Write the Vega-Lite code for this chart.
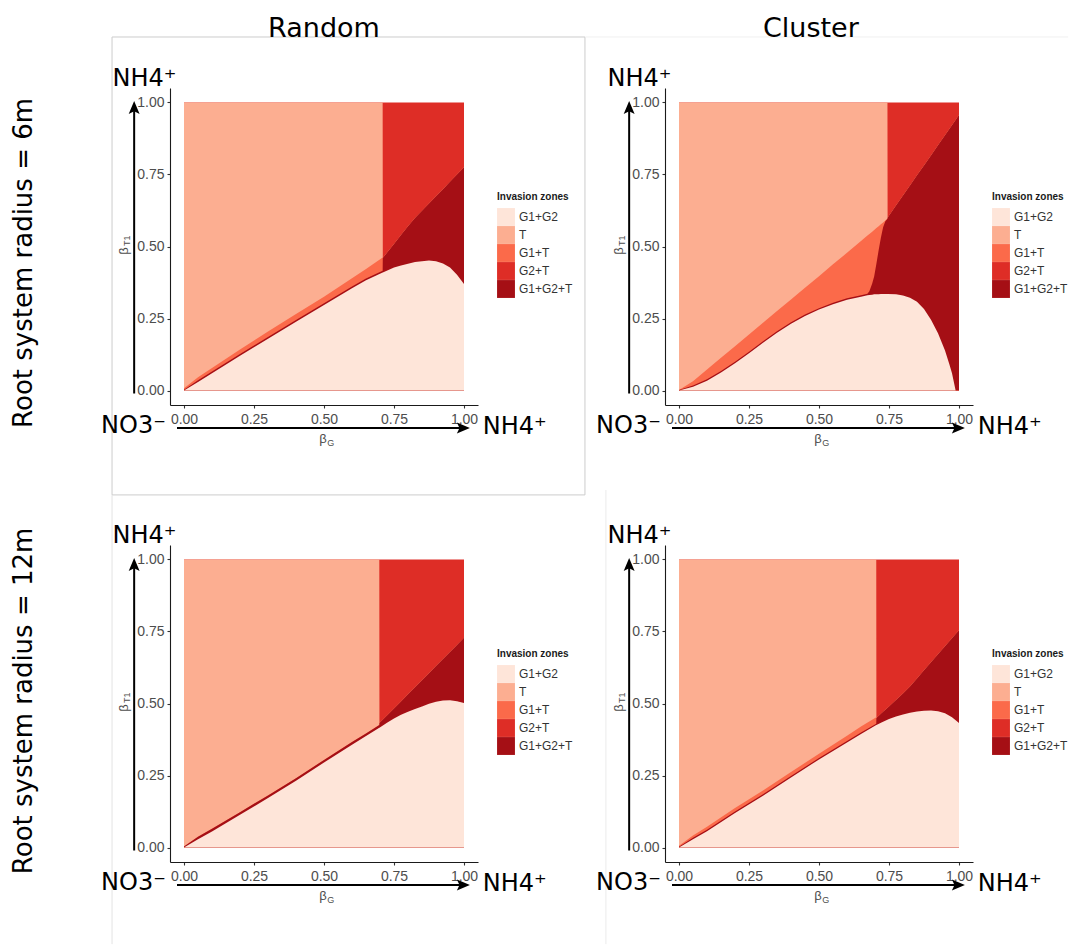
{
"$schema": "https://vega.github.io/schema/vega-lite/v6.json",
"background": "white",
"padding": {"left": 11, "top": 14, "right": 5, "bottom": 5},
"config": {
  "view": {"stroke": null},
  "axis": {"grid": false, "domainColor": "#1a1a1a", "domainWidth": 1.1, "tickColor": "#333333", "tickSize": 3, "tickWidth": 1.1, "labelColor": "#4d4d4d", "labelFontSize": 14, "labelFont": "Liberation Sans"}
},
"data": {"values": [
{"p":"A","x":0,"a":0,"b":0.003,"c":0.008,"d":1},
{"p":"A","x":0.05,"a":0.03,"b":0.036,"c":0.046,"d":1},
{"p":"A","x":0.1,"a":0.06,"b":0.066,"c":0.078,"d":1},
{"p":"A","x":0.2,"a":0.121,"b":0.127,"c":0.143,"d":1},
{"p":"A","x":0.3,"a":0.18,"b":0.186,"c":0.205,"d":1},
{"p":"A","x":0.4,"a":0.239,"b":0.245,"c":0.266,"d":1},
{"p":"A","x":0.5,"a":0.297,"b":0.303,"c":0.326,"d":1},
{"p":"A","x":0.6,"a":0.355,"b":0.361,"c":0.39,"d":1},
{"p":"A","x":0.65,"a":0.383,"b":0.389,"c":0.422,"d":1},
{"p":"A","x":0.7095,"a":0.41,"b":0.416,"c":0.462,"d":1},
{"p":"A","x":0.71,"a":0.4102,"b":0.46,"c":0.46,"d":0.46},
{"p":"A","x":0.75,"a":0.427,"b":0.509,"c":0.509,"d":0.509},
{"p":"A","x":0.775,"a":0.434,"b":0.54,"c":0.54,"d":0.54},
{"p":"A","x":0.8,"a":0.44,"b":0.57,"c":0.57,"d":0.57},
{"p":"A","x":0.825,"a":0.446,"b":0.599,"c":0.599,"d":0.599},
{"p":"A","x":0.85,"a":0.449,"b":0.624,"c":0.624,"d":0.624},
{"p":"A","x":0.875,"a":0.451,"b":0.649,"c":0.649,"d":0.649},
{"p":"A","x":0.9,"a":0.449,"b":0.674,"c":0.674,"d":0.674},
{"p":"A","x":0.925,"a":0.441,"b":0.699,"c":0.699,"d":0.699},
{"p":"A","x":0.95,"a":0.427,"b":0.725,"c":0.725,"d":0.725},
{"p":"A","x":0.975,"a":0.402,"b":0.75,"c":0.75,"d":0.75},
{"p":"A","x":1,"a":0.37,"b":0.775,"c":0.775,"d":0.775},
{"p":"B","x":0,"a":0,"b":0.002,"c":0.002,"d":1},
{"p":"B","x":0.05,"a":0.013,"b":0.018,"c":0.032,"d":1},
{"p":"B","x":0.1,"a":0.034,"b":0.039,"c":0.073,"d":1},
{"p":"B","x":0.15,"a":0.063,"b":0.068,"c":0.114,"d":1},
{"p":"B","x":0.2,"a":0.095,"b":0.1,"c":0.154,"d":1},
{"p":"B","x":0.25,"a":0.13,"b":0.135,"c":0.195,"d":1},
{"p":"B","x":0.3,"a":0.166,"b":0.171,"c":0.235,"d":1},
{"p":"B","x":0.35,"a":0.201,"b":0.206,"c":0.276,"d":1},
{"p":"B","x":0.4,"a":0.232,"b":0.237,"c":0.316,"d":1},
{"p":"B","x":0.45,"a":0.259,"b":0.264,"c":0.357,"d":1},
{"p":"B","x":0.5,"a":0.281,"b":0.286,"c":0.397,"d":1},
{"p":"B","x":0.55,"a":0.3,"b":0.305,"c":0.438,"d":1},
{"p":"B","x":0.6,"a":0.315,"b":0.32,"c":0.478,"d":1},
{"p":"B","x":0.65,"a":0.326,"b":0.331,"c":0.519,"d":1},
{"p":"B","x":0.673,"a":0.331,"b":0.336,"c":0.538,"d":1},
{"p":"B","x":0.68,"a":0.332,"b":0.345,"c":0.543,"d":1},
{"p":"B","x":0.69,"a":0.333,"b":0.372,"c":0.551,"d":1},
{"p":"B","x":0.697,"a":0.334,"b":0.396,"c":0.557,"d":1},
{"p":"B","x":0.705,"a":0.334,"b":0.44,"c":0.564,"d":1},
{"p":"B","x":0.713,"a":0.334,"b":0.487,"c":0.57,"d":1},
{"p":"B","x":0.721,"a":0.335,"b":0.53,"c":0.577,"d":1},
{"p":"B","x":0.729,"a":0.335,"b":0.567,"c":0.583,"d":1},
{"p":"B","x":0.737,"a":0.335,"b":0.588,"c":0.59,"d":1},
{"p":"B","x":0.7445,"a":0.335,"b":0.596,"c":0.596,"d":1},
{"p":"B","x":0.745,"a":0.335,"b":0.6,"c":0.6,"d":0.6},
{"p":"B","x":0.775,"a":0.334,"b":0.642,"c":0.642,"d":0.642},
{"p":"B","x":0.8,"a":0.33,"b":0.677,"c":0.677,"d":0.677},
{"p":"B","x":0.825,"a":0.322,"b":0.712,"c":0.712,"d":0.712},
{"p":"B","x":0.85,"a":0.308,"b":0.747,"c":0.747,"d":0.747},
{"p":"B","x":0.875,"a":0.283,"b":0.781,"c":0.781,"d":0.781},
{"p":"B","x":0.9,"a":0.246,"b":0.816,"c":0.816,"d":0.816},
{"p":"B","x":0.925,"a":0.199,"b":0.851,"c":0.851,"d":0.851},
{"p":"B","x":0.95,"a":0.139,"b":0.886,"c":0.886,"d":0.886},
{"p":"B","x":0.965,"a":0.093,"b":0.907,"c":0.907,"d":0.907},
{"p":"B","x":0.975,"a":0.06,"b":0.921,"c":0.921,"d":0.921},
{"p":"B","x":0.988,"a":0,"b":0.939,"c":0.939,"d":0.939},
{"p":"B","x":1,"a":0,"b":0.956,"c":0.956,"d":0.956},
{"p":"C","x":0,"a":0,"b":0.004,"c":0.004,"d":1},
{"p":"C","x":0.05,"a":0.029,"b":0.038,"c":0.038,"d":1},
{"p":"C","x":0.1,"a":0.056,"b":0.065,"c":0.065,"d":1},
{"p":"C","x":0.2,"a":0.114,"b":0.123,"c":0.123,"d":1},
{"p":"C","x":0.3,"a":0.172,"b":0.181,"c":0.181,"d":1},
{"p":"C","x":0.4,"a":0.232,"b":0.241,"c":0.241,"d":1},
{"p":"C","x":0.5,"a":0.295,"b":0.304,"c":0.304,"d":1},
{"p":"C","x":0.6,"a":0.357,"b":0.366,"c":0.366,"d":1},
{"p":"C","x":0.65,"a":0.387,"b":0.396,"c":0.396,"d":1},
{"p":"C","x":0.6975,"a":0.416,"b":0.425,"c":0.425,"d":1},
{"p":"C","x":0.698,"a":0.4162,"b":0.432,"c":0.432,"d":0.432},
{"p":"C","x":0.725,"a":0.433,"b":0.458,"c":0.458,"d":0.458},
{"p":"C","x":0.75,"a":0.448,"b":0.483,"c":0.483,"d":0.483},
{"p":"C","x":0.775,"a":0.461,"b":0.507,"c":0.507,"d":0.507},
{"p":"C","x":0.8,"a":0.471,"b":0.532,"c":0.532,"d":0.532},
{"p":"C","x":0.825,"a":0.481,"b":0.556,"c":0.556,"d":0.556},
{"p":"C","x":0.85,"a":0.49,"b":0.581,"c":0.581,"d":0.581},
{"p":"C","x":0.875,"a":0.499,"b":0.605,"c":0.605,"d":0.605},
{"p":"C","x":0.9,"a":0.506,"b":0.63,"c":0.63,"d":0.63},
{"p":"C","x":0.925,"a":0.51,"b":0.654,"c":0.654,"d":0.654},
{"p":"C","x":0.95,"a":0.511,"b":0.679,"c":0.679,"d":0.679},
{"p":"C","x":0.975,"a":0.508,"b":0.703,"c":0.703,"d":0.703},
{"p":"C","x":1,"a":0.502,"b":0.728,"c":0.728,"d":0.728},
{"p":"D","x":0,"a":0,"b":0.003,"c":0.006,"d":1},
{"p":"D","x":0.05,"a":0.029,"b":0.034,"c":0.042,"d":1},
{"p":"D","x":0.1,"a":0.057,"b":0.062,"c":0.072,"d":1},
{"p":"D","x":0.2,"a":0.12,"b":0.125,"c":0.137,"d":1},
{"p":"D","x":0.3,"a":0.18,"b":0.185,"c":0.198,"d":1},
{"p":"D","x":0.4,"a":0.243,"b":0.248,"c":0.262,"d":1},
{"p":"D","x":0.5,"a":0.306,"b":0.311,"c":0.326,"d":1},
{"p":"D","x":0.6,"a":0.365,"b":0.37,"c":0.388,"d":1},
{"p":"D","x":0.65,"a":0.394,"b":0.399,"c":0.42,"d":1},
{"p":"D","x":0.7045,"a":0.425,"b":0.43,"c":0.452,"d":1},
{"p":"D","x":0.705,"a":0.4252,"b":0.45,"c":0.45,"d":0.45},
{"p":"D","x":0.725,"a":0.435,"b":0.468,"c":0.468,"d":0.468},
{"p":"D","x":0.75,"a":0.446,"b":0.49,"c":0.49,"d":0.49},
{"p":"D","x":0.775,"a":0.455,"b":0.512,"c":0.512,"d":0.512},
{"p":"D","x":0.8,"a":0.462,"b":0.535,"c":0.535,"d":0.535},
{"p":"D","x":0.825,"a":0.468,"b":0.559,"c":0.559,"d":0.559},
{"p":"D","x":0.85,"a":0.472,"b":0.587,"c":0.587,"d":0.587},
{"p":"D","x":0.875,"a":0.475,"b":0.615,"c":0.615,"d":0.615},
{"p":"D","x":0.9,"a":0.476,"b":0.643,"c":0.643,"d":0.643},
{"p":"D","x":0.925,"a":0.473,"b":0.671,"c":0.671,"d":0.671},
{"p":"D","x":0.95,"a":0.466,"b":0.699,"c":0.699,"d":0.699},
{"p":"D","x":0.975,"a":0.452,"b":0.726,"c":0.726,"d":0.726},
{"p":"D","x":1,"a":0.432,"b":0.754,"c":0.754,"d":0.754}
]},
"columns": 2,
"spacing": {"row": 140, "column": 187},
"bounds": "flush",
"resolve": {"scale": {"color": "independent"}, "legend": {"color": "independent"}},
"concat": [
{
 "width": 308, "height": 317,
 "transform": [{"filter": "datum.p == 'A'"}],
 "layer": [
  {"mark": {"type": "area", "opacity": 1}, "encoding": {"x": {"field": "x", "type": "quantitative", "scale": {"domain": [-0.05, 1.05], "nice": false, "zero": false}, "axis": {"title": null, "values": [0, 0.25, 0.5, 0.75, 1], "format": ".2f", "labelOverlap": false, "labelFlush": false, "labelPadding": 4}}, "y": {"datum": 1, "type": "quantitative", "scale": {"domain": [-0.05, 1.05], "nice": false, "zero": false}, "axis": {"title": null, "values": [0, 0.25, 0.5, 0.75, 1], "format": ".2f", "labelOverlap": false, "labelFlush": false, "labelPadding": 3}}, "y2": {"datum": 0}, "color": {"datum": "G2+T", "type": "nominal", "scale": {"domain": ["G1+G2", "T", "G1+T", "G2+T", "G1+G2+T"], "range": ["#fee5d9", "#fcae91", "#fb6a4a", "#de2d26", "#a50f15"]}, "legend": {"title": "Invasion zones", "orient": "none", "legendX": 327, "legendY": 104, "symbolType": "square", "symbolSize": 320, "symbolStrokeWidth": 0, "symbolOpacity": 1, "rowPadding": 0, "labelFontSize": 12, "labelColor": "#333333", "labelFont": "Liberation Sans", "titleFont": "Liberation Sans", "titleFontSize": 10, "titleFontWeight": "bold", "titleColor": "#1a1a1a", "titlePadding": 6, "labelOffset": 4, "padding": 0}}}},
  {"mark": {"type": "area", "opacity": 1}, "encoding": {"x": {"field": "x", "type": "quantitative"}, "y": {"field": "d", "type": "quantitative", "stack": null}, "y2": {"datum": 0}, "color": {"datum": "T", "type": "nominal"}}},
  {"mark": {"type": "area", "opacity": 1}, "encoding": {"x": {"field": "x", "type": "quantitative"}, "y": {"field": "c", "type": "quantitative", "stack": null}, "y2": {"datum": 0}, "color": {"datum": "G1+T", "type": "nominal"}}},
  {"mark": {"type": "area", "opacity": 1}, "encoding": {"x": {"field": "x", "type": "quantitative"}, "y": {"field": "b", "type": "quantitative", "stack": null}, "y2": {"datum": 0}, "color": {"datum": "G1+G2+T", "type": "nominal"}}},
  {"mark": {"type": "area", "opacity": 1}, "encoding": {"x": {"field": "x", "type": "quantitative"}, "y": {"field": "a", "type": "quantitative", "stack": null}, "y2": {"datum": 0}, "color": {"datum": "G1+G2", "type": "nominal"}}},
  {"transform": [{"filter": "datum.x == 0"}], "mark": {"type": "rect", "filled": false, "stroke": "#cccccc", "strokeWidth": 1}, "encoding": {"x": {"datum": -0.257, "type": "quantitative"}, "x2": {"datum": 1.432}, "y": {"datum": 1.227, "type": "quantitative"}, "y2": {"datum": -0.362}}},
  {"transform": [{"filter": "datum.x == 0"}], "mark": {"type": "rule", "strokeWidth": 2, "color": "#000000"}, "encoding": {"x": {"datum": -0.025, "type": "quantitative"}, "x2": {"datum": 0.986}, "y": {"datum": -0.13, "type": "quantitative"}}},
  {"transform": [{"filter": "datum.x == 0"}], "mark": {"type": "point", "shape": "M0,0L-1,-0.42L-0.8,0L-1,0.42Z", "size": 676, "filled": true, "opacity": 1, "color": "#000000", "strokeWidth": 0}, "encoding": {"x": {"datum": 1.021, "type": "quantitative"}, "y": {"datum": -0.13, "type": "quantitative"}}},
  {"transform": [{"filter": "datum.x == 0"}], "mark": {"type": "rule", "strokeWidth": 2, "color": "#000000"}, "encoding": {"x": {"datum": -0.178, "type": "quantitative"}, "y": {"datum": -0.01, "type": "quantitative"}, "y2": {"datum": 0.97}}},
  {"transform": [{"filter": "datum.x == 0"}], "mark": {"type": "point", "shape": "M0,0L-0.42,1L0,0.8L0.42,1Z", "size": 676, "filled": true, "opacity": 1, "color": "#000000", "strokeWidth": 0}, "encoding": {"x": {"datum": -0.178, "type": "quantitative"}, "y": {"datum": 1.005, "type": "quantitative"}}},
  {"transform": [{"filter": "datum.x == 0"}], "mark": {"type": "text", "text": "Random", "font": "DejaVu Sans", "fontSize": 27, "align": "center", "baseline": "alphabetic", "color": "#000000"}, "encoding": {"x": {"datum": 0.5, "type": "quantitative"}, "y": {"datum": 1.227, "type": "quantitative"}}},
  {"transform": [{"filter": "datum.x == 0"}], "mark": {"type": "text", "text": "NH4⁺", "font": "DejaVu Sans", "fontSize": 24, "align": "left", "baseline": "alphabetic", "color": "#000000"}, "encoding": {"x": {"datum": -0.255, "type": "quantitative"}, "y": {"datum": 1.057, "type": "quantitative"}}},
  {"transform": [{"filter": "datum.x == 0"}], "mark": {"type": "text", "text": "NO3⁻", "font": "DejaVu Sans", "fontSize": 24, "align": "left", "baseline": "alphabetic", "color": "#000000"}, "encoding": {"x": {"datum": -0.296, "type": "quantitative"}, "y": {"datum": -0.147, "type": "quantitative"}}},
  {"transform": [{"filter": "datum.x == 0"}], "mark": {"type": "text", "text": "NH4⁺", "font": "DejaVu Sans", "fontSize": 24, "align": "left", "baseline": "alphabetic", "color": "#000000"}, "encoding": {"x": {"datum": 1.067, "type": "quantitative"}, "y": {"datum": -0.151, "type": "quantitative"}}},
  {"transform": [{"filter": "datum.x == 0"}], "mark": {"type": "text", "text": "β", "font": "Liberation Sans", "fontSize": 13, "align": "center", "baseline": "alphabetic", "color": "#4d4d4d"}, "encoding": {"x": {"datum": 0.496, "type": "quantitative"}, "y": {"datum": -0.182, "type": "quantitative"}}},
  {"transform": [{"filter": "datum.x == 0"}], "mark": {"type": "text", "text": "G", "font": "Liberation Sans", "fontSize": 9, "align": "left", "baseline": "alphabetic", "color": "#4d4d4d"}, "encoding": {"x": {"datum": 0.512, "type": "quantitative"}, "y": {"datum": -0.192, "type": "quantitative"}}},
  {"transform": [{"filter": "datum.x == 0"}], "mark": {"type": "text", "text": "β", "font": "Liberation Sans", "fontSize": 13, "angle": 270, "align": "center", "baseline": "middle", "color": "#4d4d4d"}, "encoding": {"x": {"datum": -0.214, "type": "quantitative"}, "y": {"datum": 0.484, "type": "quantitative"}}},
  {"transform": [{"filter": "datum.x == 0"}], "mark": {"type": "text", "text": "T1", "font": "Liberation Sans", "fontSize": 9, "angle": 270, "align": "center", "baseline": "middle", "color": "#4d4d4d"}, "encoding": {"x": {"datum": -0.204, "type": "quantitative"}, "y": {"datum": 0.52, "type": "quantitative"}}},
  {"transform": [{"filter": "datum.x == 0"}], "mark": {"type": "text", "text": "Root system radius = 6m", "font": "DejaVu Sans", "fontSize": 26, "angle": 270, "align": "center", "baseline": "middle", "color": "#000000"}, "encoding": {"x": {"datum": -0.571, "type": "quantitative"}, "y": {"datum": 0.443, "type": "quantitative"}}}
 ]
},
{
 "width": 308, "height": 317,
 "transform": [{"filter": "datum.p == 'B'"}],
 "layer": [
  {"mark": {"type": "area", "opacity": 1}, "encoding": {"x": {"field": "x", "type": "quantitative", "scale": {"domain": [-0.05, 1.05], "nice": false, "zero": false}, "axis": {"title": null, "values": [0, 0.25, 0.5, 0.75, 1], "format": ".2f", "labelOverlap": false, "labelFlush": false, "labelPadding": 4}}, "y": {"datum": 1, "type": "quantitative", "scale": {"domain": [-0.05, 1.05], "nice": false, "zero": false}, "axis": {"title": null, "values": [0, 0.25, 0.5, 0.75, 1], "format": ".2f", "labelOverlap": false, "labelFlush": false, "labelPadding": 3}}, "y2": {"datum": 0}, "color": {"datum": "G2+T", "type": "nominal", "scale": {"domain": ["G1+G2", "T", "G1+T", "G2+T", "G1+G2+T"], "range": ["#fee5d9", "#fcae91", "#fb6a4a", "#de2d26", "#a50f15"]}, "legend": {"title": "Invasion zones", "orient": "none", "legendX": 327, "legendY": 104, "symbolType": "square", "symbolSize": 320, "symbolStrokeWidth": 0, "symbolOpacity": 1, "rowPadding": 0, "labelFontSize": 12, "labelColor": "#333333", "labelFont": "Liberation Sans", "titleFont": "Liberation Sans", "titleFontSize": 10, "titleFontWeight": "bold", "titleColor": "#1a1a1a", "titlePadding": 6, "labelOffset": 4, "padding": 0}}}},
  {"mark": {"type": "area", "opacity": 1}, "encoding": {"x": {"field": "x", "type": "quantitative"}, "y": {"field": "d", "type": "quantitative", "stack": null}, "y2": {"datum": 0}, "color": {"datum": "T", "type": "nominal"}}},
  {"mark": {"type": "area", "opacity": 1}, "encoding": {"x": {"field": "x", "type": "quantitative"}, "y": {"field": "c", "type": "quantitative", "stack": null}, "y2": {"datum": 0}, "color": {"datum": "G1+T", "type": "nominal"}}},
  {"mark": {"type": "area", "opacity": 1}, "encoding": {"x": {"field": "x", "type": "quantitative"}, "y": {"field": "b", "type": "quantitative", "stack": null}, "y2": {"datum": 0}, "color": {"datum": "G1+G2+T", "type": "nominal"}}},
  {"mark": {"type": "area", "opacity": 1}, "encoding": {"x": {"field": "x", "type": "quantitative"}, "y": {"field": "a", "type": "quantitative", "stack": null}, "y2": {"datum": 0}, "color": {"datum": "G1+G2", "type": "nominal"}}},
  {"transform": [{"filter": "datum.x == 0"}], "mark": {"type": "rule", "strokeWidth": 1, "color": "#f0f0f0"}, "encoding": {"x": {"datum": -0.335, "type": "quantitative"}, "x2": {"datum": 1.39}, "y": {"datum": 1.227, "type": "quantitative"}}},
  {"transform": [{"filter": "datum.x == 0"}], "mark": {"type": "rule", "strokeWidth": 2, "color": "#000000"}, "encoding": {"x": {"datum": -0.025, "type": "quantitative"}, "x2": {"datum": 0.986}, "y": {"datum": -0.13, "type": "quantitative"}}},
  {"transform": [{"filter": "datum.x == 0"}], "mark": {"type": "point", "shape": "M0,0L-1,-0.42L-0.8,0L-1,0.42Z", "size": 676, "filled": true, "opacity": 1, "color": "#000000", "strokeWidth": 0}, "encoding": {"x": {"datum": 1.021, "type": "quantitative"}, "y": {"datum": -0.13, "type": "quantitative"}}},
  {"transform": [{"filter": "datum.x == 0"}], "mark": {"type": "rule", "strokeWidth": 2, "color": "#000000"}, "encoding": {"x": {"datum": -0.178, "type": "quantitative"}, "y": {"datum": -0.01, "type": "quantitative"}, "y2": {"datum": 0.97}}},
  {"transform": [{"filter": "datum.x == 0"}], "mark": {"type": "point", "shape": "M0,0L-0.42,1L0,0.8L0.42,1Z", "size": 676, "filled": true, "opacity": 1, "color": "#000000", "strokeWidth": 0}, "encoding": {"x": {"datum": -0.178, "type": "quantitative"}, "y": {"datum": 1.005, "type": "quantitative"}}},
  {"transform": [{"filter": "datum.x == 0"}], "mark": {"type": "text", "text": "Cluster", "font": "DejaVu Sans", "fontSize": 27, "align": "center", "baseline": "alphabetic", "color": "#000000"}, "encoding": {"x": {"datum": 0.471, "type": "quantitative"}, "y": {"datum": 1.227, "type": "quantitative"}}},
  {"transform": [{"filter": "datum.x == 0"}], "mark": {"type": "text", "text": "NH4⁺", "font": "DejaVu Sans", "fontSize": 24, "align": "left", "baseline": "alphabetic", "color": "#000000"}, "encoding": {"x": {"datum": -0.255, "type": "quantitative"}, "y": {"datum": 1.057, "type": "quantitative"}}},
  {"transform": [{"filter": "datum.x == 0"}], "mark": {"type": "text", "text": "NO3⁻", "font": "DejaVu Sans", "fontSize": 24, "align": "left", "baseline": "alphabetic", "color": "#000000"}, "encoding": {"x": {"datum": -0.296, "type": "quantitative"}, "y": {"datum": -0.147, "type": "quantitative"}}},
  {"transform": [{"filter": "datum.x == 0"}], "mark": {"type": "text", "text": "NH4⁺", "font": "DejaVu Sans", "fontSize": 24, "align": "left", "baseline": "alphabetic", "color": "#000000"}, "encoding": {"x": {"datum": 1.067, "type": "quantitative"}, "y": {"datum": -0.151, "type": "quantitative"}}},
  {"transform": [{"filter": "datum.x == 0"}], "mark": {"type": "text", "text": "β", "font": "Liberation Sans", "fontSize": 13, "align": "center", "baseline": "alphabetic", "color": "#4d4d4d"}, "encoding": {"x": {"datum": 0.496, "type": "quantitative"}, "y": {"datum": -0.182, "type": "quantitative"}}},
  {"transform": [{"filter": "datum.x == 0"}], "mark": {"type": "text", "text": "G", "font": "Liberation Sans", "fontSize": 9, "align": "left", "baseline": "alphabetic", "color": "#4d4d4d"}, "encoding": {"x": {"datum": 0.512, "type": "quantitative"}, "y": {"datum": -0.192, "type": "quantitative"}}},
  {"transform": [{"filter": "datum.x == 0"}], "mark": {"type": "text", "text": "β", "font": "Liberation Sans", "fontSize": 13, "angle": 270, "align": "center", "baseline": "middle", "color": "#4d4d4d"}, "encoding": {"x": {"datum": -0.214, "type": "quantitative"}, "y": {"datum": 0.484, "type": "quantitative"}}},
  {"transform": [{"filter": "datum.x == 0"}], "mark": {"type": "text", "text": "T1", "font": "Liberation Sans", "fontSize": 9, "angle": 270, "align": "center", "baseline": "middle", "color": "#4d4d4d"}, "encoding": {"x": {"datum": -0.204, "type": "quantitative"}, "y": {"datum": 0.52, "type": "quantitative"}}}
 ]
},
{
 "width": 308, "height": 317,
 "transform": [{"filter": "datum.p == 'C'"}],
 "layer": [
  {"mark": {"type": "area", "opacity": 1}, "encoding": {"x": {"field": "x", "type": "quantitative", "scale": {"domain": [-0.05, 1.05], "nice": false, "zero": false}, "axis": {"title": null, "values": [0, 0.25, 0.5, 0.75, 1], "format": ".2f", "labelOverlap": false, "labelFlush": false, "labelPadding": 4}}, "y": {"datum": 1, "type": "quantitative", "scale": {"domain": [-0.05, 1.05], "nice": false, "zero": false}, "axis": {"title": null, "values": [0, 0.25, 0.5, 0.75, 1], "format": ".2f", "labelOverlap": false, "labelFlush": false, "labelPadding": 3}}, "y2": {"datum": 0}, "color": {"datum": "G2+T", "type": "nominal", "scale": {"domain": ["G1+G2", "T", "G1+T", "G2+T", "G1+G2+T"], "range": ["#fee5d9", "#fcae91", "#fb6a4a", "#de2d26", "#a50f15"]}, "legend": {"title": "Invasion zones", "orient": "none", "legendX": 327, "legendY": 104, "symbolType": "square", "symbolSize": 320, "symbolStrokeWidth": 0, "symbolOpacity": 1, "rowPadding": 0, "labelFontSize": 12, "labelColor": "#333333", "labelFont": "Liberation Sans", "titleFont": "Liberation Sans", "titleFontSize": 10, "titleFontWeight": "bold", "titleColor": "#1a1a1a", "titlePadding": 6, "labelOffset": 4, "padding": 0}}}},
  {"mark": {"type": "area", "opacity": 1}, "encoding": {"x": {"field": "x", "type": "quantitative"}, "y": {"field": "d", "type": "quantitative", "stack": null}, "y2": {"datum": 0}, "color": {"datum": "T", "type": "nominal"}}},
  {"mark": {"type": "area", "opacity": 1}, "encoding": {"x": {"field": "x", "type": "quantitative"}, "y": {"field": "c", "type": "quantitative", "stack": null}, "y2": {"datum": 0}, "color": {"datum": "G1+T", "type": "nominal"}}},
  {"mark": {"type": "area", "opacity": 1}, "encoding": {"x": {"field": "x", "type": "quantitative"}, "y": {"field": "b", "type": "quantitative", "stack": null}, "y2": {"datum": 0}, "color": {"datum": "G1+G2+T", "type": "nominal"}}},
  {"mark": {"type": "area", "opacity": 1}, "encoding": {"x": {"field": "x", "type": "quantitative"}, "y": {"field": "a", "type": "quantitative", "stack": null}, "y2": {"datum": 0}, "color": {"datum": "G1+G2", "type": "nominal"}}},
  {"transform": [{"filter": "datum.x == 0"}], "mark": {"type": "rule", "strokeWidth": 1, "color": "#e3e3e3"}, "encoding": {"x": {"datum": -0.257, "type": "quantitative"}, "y": {"datum": 1.223, "type": "quantitative"}, "y2": {"datum": -0.335}}},
  {"transform": [{"filter": "datum.x == 0"}], "mark": {"type": "rule", "strokeWidth": 2, "color": "#000000"}, "encoding": {"x": {"datum": -0.025, "type": "quantitative"}, "x2": {"datum": 0.986}, "y": {"datum": -0.13, "type": "quantitative"}}},
  {"transform": [{"filter": "datum.x == 0"}], "mark": {"type": "point", "shape": "M0,0L-1,-0.42L-0.8,0L-1,0.42Z", "size": 676, "filled": true, "opacity": 1, "color": "#000000", "strokeWidth": 0}, "encoding": {"x": {"datum": 1.021, "type": "quantitative"}, "y": {"datum": -0.13, "type": "quantitative"}}},
  {"transform": [{"filter": "datum.x == 0"}], "mark": {"type": "rule", "strokeWidth": 2, "color": "#000000"}, "encoding": {"x": {"datum": -0.178, "type": "quantitative"}, "y": {"datum": -0.01, "type": "quantitative"}, "y2": {"datum": 0.97}}},
  {"transform": [{"filter": "datum.x == 0"}], "mark": {"type": "point", "shape": "M0,0L-0.42,1L0,0.8L0.42,1Z", "size": 676, "filled": true, "opacity": 1, "color": "#000000", "strokeWidth": 0}, "encoding": {"x": {"datum": -0.178, "type": "quantitative"}, "y": {"datum": 1.005, "type": "quantitative"}}},
  {"transform": [{"filter": "datum.x == 0"}], "mark": {"type": "text", "text": "NH4⁺", "font": "DejaVu Sans", "fontSize": 24, "align": "left", "baseline": "alphabetic", "color": "#000000"}, "encoding": {"x": {"datum": -0.255, "type": "quantitative"}, "y": {"datum": 1.057, "type": "quantitative"}}},
  {"transform": [{"filter": "datum.x == 0"}], "mark": {"type": "text", "text": "NO3⁻", "font": "DejaVu Sans", "fontSize": 24, "align": "left", "baseline": "alphabetic", "color": "#000000"}, "encoding": {"x": {"datum": -0.296, "type": "quantitative"}, "y": {"datum": -0.147, "type": "quantitative"}}},
  {"transform": [{"filter": "datum.x == 0"}], "mark": {"type": "text", "text": "NH4⁺", "font": "DejaVu Sans", "fontSize": 24, "align": "left", "baseline": "alphabetic", "color": "#000000"}, "encoding": {"x": {"datum": 1.067, "type": "quantitative"}, "y": {"datum": -0.151, "type": "quantitative"}}},
  {"transform": [{"filter": "datum.x == 0"}], "mark": {"type": "text", "text": "β", "font": "Liberation Sans", "fontSize": 13, "align": "center", "baseline": "alphabetic", "color": "#4d4d4d"}, "encoding": {"x": {"datum": 0.496, "type": "quantitative"}, "y": {"datum": -0.182, "type": "quantitative"}}},
  {"transform": [{"filter": "datum.x == 0"}], "mark": {"type": "text", "text": "G", "font": "Liberation Sans", "fontSize": 9, "align": "left", "baseline": "alphabetic", "color": "#4d4d4d"}, "encoding": {"x": {"datum": 0.512, "type": "quantitative"}, "y": {"datum": -0.192, "type": "quantitative"}}},
  {"transform": [{"filter": "datum.x == 0"}], "mark": {"type": "text", "text": "β", "font": "Liberation Sans", "fontSize": 13, "angle": 270, "align": "center", "baseline": "middle", "color": "#4d4d4d"}, "encoding": {"x": {"datum": -0.214, "type": "quantitative"}, "y": {"datum": 0.484, "type": "quantitative"}}},
  {"transform": [{"filter": "datum.x == 0"}], "mark": {"type": "text", "text": "T1", "font": "Liberation Sans", "fontSize": 9, "angle": 270, "align": "center", "baseline": "middle", "color": "#4d4d4d"}, "encoding": {"x": {"datum": -0.204, "type": "quantitative"}, "y": {"datum": 0.52, "type": "quantitative"}}},
  {"transform": [{"filter": "datum.x == 0"}], "mark": {"type": "text", "text": "Root system radius = 12m", "font": "DejaVu Sans", "fontSize": 26, "angle": 270, "align": "center", "baseline": "middle", "color": "#000000"}, "encoding": {"x": {"datum": -0.571, "type": "quantitative"}, "y": {"datum": 0.509, "type": "quantitative"}}}
 ]
},
{
 "width": 308, "height": 317,
 "transform": [{"filter": "datum.p == 'D'"}],
 "layer": [
  {"mark": {"type": "area", "opacity": 1}, "encoding": {"x": {"field": "x", "type": "quantitative", "scale": {"domain": [-0.05, 1.05], "nice": false, "zero": false}, "axis": {"title": null, "values": [0, 0.25, 0.5, 0.75, 1], "format": ".2f", "labelOverlap": false, "labelFlush": false, "labelPadding": 4}}, "y": {"datum": 1, "type": "quantitative", "scale": {"domain": [-0.05, 1.05], "nice": false, "zero": false}, "axis": {"title": null, "values": [0, 0.25, 0.5, 0.75, 1], "format": ".2f", "labelOverlap": false, "labelFlush": false, "labelPadding": 3}}, "y2": {"datum": 0}, "color": {"datum": "G2+T", "type": "nominal", "scale": {"domain": ["G1+G2", "T", "G1+T", "G2+T", "G1+G2+T"], "range": ["#fee5d9", "#fcae91", "#fb6a4a", "#de2d26", "#a50f15"]}, "legend": {"title": "Invasion zones", "orient": "none", "legendX": 327, "legendY": 104, "symbolType": "square", "symbolSize": 320, "symbolStrokeWidth": 0, "symbolOpacity": 1, "rowPadding": 0, "labelFontSize": 12, "labelColor": "#333333", "labelFont": "Liberation Sans", "titleFont": "Liberation Sans", "titleFontSize": 10, "titleFontWeight": "bold", "titleColor": "#1a1a1a", "titlePadding": 6, "labelOffset": 4, "padding": 0}}}},
  {"mark": {"type": "area", "opacity": 1}, "encoding": {"x": {"field": "x", "type": "quantitative"}, "y": {"field": "d", "type": "quantitative", "stack": null}, "y2": {"datum": 0}, "color": {"datum": "T", "type": "nominal"}}},
  {"mark": {"type": "area", "opacity": 1}, "encoding": {"x": {"field": "x", "type": "quantitative"}, "y": {"field": "c", "type": "quantitative", "stack": null}, "y2": {"datum": 0}, "color": {"datum": "G1+T", "type": "nominal"}}},
  {"mark": {"type": "area", "opacity": 1}, "encoding": {"x": {"field": "x", "type": "quantitative"}, "y": {"field": "b", "type": "quantitative", "stack": null}, "y2": {"datum": 0}, "color": {"datum": "G1+G2+T", "type": "nominal"}}},
  {"mark": {"type": "area", "opacity": 1}, "encoding": {"x": {"field": "x", "type": "quantitative"}, "y": {"field": "a", "type": "quantitative", "stack": null}, "y2": {"datum": 0}, "color": {"datum": "G1+G2", "type": "nominal"}}},
  {"transform": [{"filter": "datum.x == 0"}], "mark": {"type": "rule", "strokeWidth": 1, "color": "#ebebeb"}, "encoding": {"x": {"datum": -0.261, "type": "quantitative"}, "y": {"datum": 1.241, "type": "quantitative"}, "y2": {"datum": -0.335}}},
  {"transform": [{"filter": "datum.x == 0"}], "mark": {"type": "rule", "strokeWidth": 2, "color": "#000000"}, "encoding": {"x": {"datum": -0.025, "type": "quantitative"}, "x2": {"datum": 0.986}, "y": {"datum": -0.13, "type": "quantitative"}}},
  {"transform": [{"filter": "datum.x == 0"}], "mark": {"type": "point", "shape": "M0,0L-1,-0.42L-0.8,0L-1,0.42Z", "size": 676, "filled": true, "opacity": 1, "color": "#000000", "strokeWidth": 0}, "encoding": {"x": {"datum": 1.021, "type": "quantitative"}, "y": {"datum": -0.13, "type": "quantitative"}}},
  {"transform": [{"filter": "datum.x == 0"}], "mark": {"type": "rule", "strokeWidth": 2, "color": "#000000"}, "encoding": {"x": {"datum": -0.178, "type": "quantitative"}, "y": {"datum": -0.01, "type": "quantitative"}, "y2": {"datum": 0.97}}},
  {"transform": [{"filter": "datum.x == 0"}], "mark": {"type": "point", "shape": "M0,0L-0.42,1L0,0.8L0.42,1Z", "size": 676, "filled": true, "opacity": 1, "color": "#000000", "strokeWidth": 0}, "encoding": {"x": {"datum": -0.178, "type": "quantitative"}, "y": {"datum": 1.005, "type": "quantitative"}}},
  {"transform": [{"filter": "datum.x == 0"}], "mark": {"type": "text", "text": "NH4⁺", "font": "DejaVu Sans", "fontSize": 24, "align": "left", "baseline": "alphabetic", "color": "#000000"}, "encoding": {"x": {"datum": -0.255, "type": "quantitative"}, "y": {"datum": 1.057, "type": "quantitative"}}},
  {"transform": [{"filter": "datum.x == 0"}], "mark": {"type": "text", "text": "NO3⁻", "font": "DejaVu Sans", "fontSize": 24, "align": "left", "baseline": "alphabetic", "color": "#000000"}, "encoding": {"x": {"datum": -0.296, "type": "quantitative"}, "y": {"datum": -0.147, "type": "quantitative"}}},
  {"transform": [{"filter": "datum.x == 0"}], "mark": {"type": "text", "text": "NH4⁺", "font": "DejaVu Sans", "fontSize": 24, "align": "left", "baseline": "alphabetic", "color": "#000000"}, "encoding": {"x": {"datum": 1.067, "type": "quantitative"}, "y": {"datum": -0.151, "type": "quantitative"}}},
  {"transform": [{"filter": "datum.x == 0"}], "mark": {"type": "text", "text": "β", "font": "Liberation Sans", "fontSize": 13, "align": "center", "baseline": "alphabetic", "color": "#4d4d4d"}, "encoding": {"x": {"datum": 0.496, "type": "quantitative"}, "y": {"datum": -0.182, "type": "quantitative"}}},
  {"transform": [{"filter": "datum.x == 0"}], "mark": {"type": "text", "text": "G", "font": "Liberation Sans", "fontSize": 9, "align": "left", "baseline": "alphabetic", "color": "#4d4d4d"}, "encoding": {"x": {"datum": 0.512, "type": "quantitative"}, "y": {"datum": -0.192, "type": "quantitative"}}},
  {"transform": [{"filter": "datum.x == 0"}], "mark": {"type": "text", "text": "β", "font": "Liberation Sans", "fontSize": 13, "angle": 270, "align": "center", "baseline": "middle", "color": "#4d4d4d"}, "encoding": {"x": {"datum": -0.214, "type": "quantitative"}, "y": {"datum": 0.484, "type": "quantitative"}}},
  {"transform": [{"filter": "datum.x == 0"}], "mark": {"type": "text", "text": "T1", "font": "Liberation Sans", "fontSize": 9, "angle": 270, "align": "center", "baseline": "middle", "color": "#4d4d4d"}, "encoding": {"x": {"datum": -0.204, "type": "quantitative"}, "y": {"datum": 0.52, "type": "quantitative"}}}
 ]
}
]
}
